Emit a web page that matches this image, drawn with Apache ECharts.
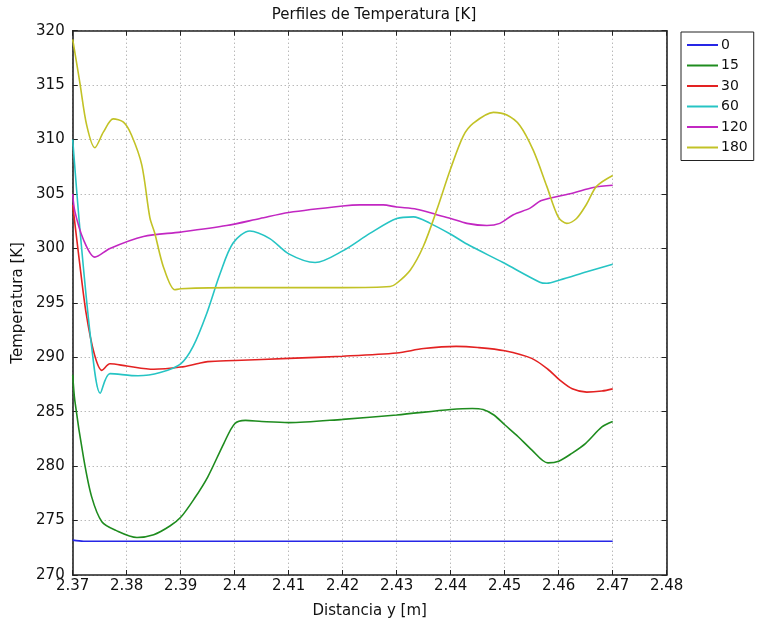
<!DOCTYPE html>
<html>
<head>
<meta charset="utf-8">
<script src="https://cdn.jsdelivr.net/npm/echarts@6/dist/echarts.min.js"></script>
<style>
html,body{margin:0;padding:0;background:#fff;}
#chart{width:760px;height:626px;}
</style>
</head>
<body>
<div id="chart"></div>
<script>
// Temperature profiles along y for each time (legend names)
const seriesNames = ['0', '15', '30', '60', '120', '180'];
const seriesColors = ['#2626e6', '#1f8c1f', '#e32222', '#26c4c4', '#c227c2', '#c2c226'];

const x0 = [2.37, 2.372, 2.38, 2.39, 2.40, 2.41, 2.42, 2.43, 2.44, 2.45, 2.46, 2.47];
const y0 = [273.2, 273.1, 273.1, 273.1, 273.1, 273.1, 273.1, 273.1, 273.1, 273.1, 273.1, 273.1];

const x15 = [2.37, 2.3704, 2.372, 2.3735, 2.3754, 2.378, 2.3819, 2.385, 2.388, 2.39, 2.3925, 2.395, 2.398, 2.40, 2.402, 2.405, 2.41, 2.42, 2.43, 2.44, 2.444, 2.446, 2.448, 2.45, 2.4525, 2.455, 2.458, 2.46, 2.4625, 2.465, 2.468, 2.47];
const y15 = [288.4, 286.0, 280.8, 277.2, 274.9, 274.1, 273.45, 273.7, 274.5, 275.3, 277.0, 279.0, 282.1, 283.9, 284.2, 284.1, 284.0, 284.3, 284.7, 285.2, 285.3, 285.2, 284.7, 283.8, 282.7, 281.5, 280.3, 280.45, 281.2, 282.1, 283.6, 284.1];

const x30 = [2.37, 2.3712, 2.3725, 2.374, 2.3754, 2.3769, 2.38, 2.385, 2.39, 2.393, 2.395, 2.40, 2.41, 2.42, 2.43, 2.435, 2.441, 2.445, 2.45, 2.455, 2.458, 2.4602, 2.4625, 2.4652, 2.468, 2.47];
const y30 = [304.0, 299.0, 294.0, 290.3, 288.8, 289.4, 289.2, 288.9, 289.1, 289.4, 289.6, 289.7, 289.9, 290.1, 290.4, 290.8, 291.0, 290.9, 290.6, 289.9, 288.9, 287.9, 287.1, 286.8, 286.9, 287.1];

const x60 = [2.37, 2.3714, 2.3735, 2.3751, 2.3769, 2.3821, 2.3862, 2.39, 2.3923, 2.3948, 2.3973, 2.3997, 2.4028, 2.4065, 2.41, 2.4149, 2.4201, 2.4251, 2.43, 2.4331, 2.4362, 2.44, 2.443, 2.4497, 2.4565, 2.4578, 2.4602, 2.4652, 2.47];
const y60 = [310.0, 301.4, 291.0, 286.7, 288.5, 288.3, 288.6, 289.4, 291.0, 294.0, 297.7, 300.5, 301.6, 300.9, 299.5, 298.7, 299.8, 301.4, 302.75, 302.9, 302.3, 301.3, 300.4, 298.7, 296.9, 296.8, 297.1, 297.85, 298.55];

const x120 = [2.37, 2.3704, 2.372, 2.3741, 2.3769, 2.3831, 2.39, 2.3985, 2.4047, 2.41, 2.42, 2.4232, 2.4275, 2.43, 2.4337, 2.4374, 2.44, 2.443, 2.4467, 2.4491, 2.4516, 2.4547, 2.4568, 2.4627, 2.4664, 2.47];
const y120 = [305.0, 303.4, 300.8, 299.2, 300.0, 301.1, 301.5, 302.1, 302.75, 303.3, 303.9, 304.0, 304.0, 303.8, 303.6, 303.1, 302.75, 302.3, 302.1, 302.3, 303.1, 303.7, 304.4, 305.1, 305.6, 305.8];

const x180 = [2.37, 2.3713, 2.3726, 2.3741, 2.3757, 2.3775, 2.3794, 2.3809, 2.3828, 2.3843, 2.3852, 2.3868, 2.3889, 2.39, 2.40, 2.41, 2.42, 2.4288, 2.43, 2.4325, 2.4349, 2.4374, 2.4399, 2.4423, 2.4442, 2.4479, 2.4504, 2.4528, 2.4553, 2.4578, 2.4599, 2.4615, 2.4633, 2.4652, 2.467, 2.47];
const y180 = [319.2, 315.3, 311.3, 309.25, 310.7, 311.9, 311.6, 310.4, 307.65, 302.8, 301.4, 298.3, 296.2, 296.3, 296.4, 296.4, 296.4, 296.5, 296.8, 298.0, 300.15, 303.5, 307.2, 310.3, 311.5, 312.5, 312.25, 311.3, 309.0, 305.7, 302.9, 302.3, 302.75, 304.1, 305.7, 306.7];

const xTicks = [2.37, 2.38, 2.39, 2.40, 2.41, 2.42, 2.43, 2.44, 2.45, 2.46, 2.47, 2.48];

const xs = [x0, x15, x30, x60, x120, x180];
const ys = [y0, y15, y30, y60, y120, y180];

const font = 'DejaVu Sans';
const axisColor = '#222';
const gridDots = { show: true, lineStyle: { color: '#9a9a9a', type: [1, 3], width: 1 } };

const series = seriesNames.map((name, i) => ({
  name: name,
  type: 'line',
  data: xs[i].map((x, k) => [x, ys[i][k]]),
  showSymbol: false,
  smooth: 0.3,
  lineStyle: { color: seriesColors[i], width: 1.6 },
  itemStyle: { color: seriesColors[i] },
  emphasis: { disabled: true },
  z: 3
}));

const chart = echarts.init(document.getElementById('chart'), null, { renderer: 'canvas' });
chart.setOption({
  animation: false,
  backgroundColor: '#fff',
  title: {
    text: 'Perfiles de Temperatura [K]',
    left: 369, top: 3, textAlign: 'center',
    textStyle: { fontFamily: font, fontSize: 15, fontWeight: 'normal', color: '#111' }
  },
  legend: {
    data: seriesNames,
    orient: 'vertical',
    left: 681, top: 32,
    width: 76,
    padding: [6, 6, 6, 6],
    itemGap: 6.5,
    itemWidth: 31, itemHeight: 2,
    icon: 'rect',
    borderColor: '#222', borderWidth: 1,
    textStyle: { fontFamily: font, fontSize: 14, color: '#111', padding: [0, 0, 0, -2] },
    selectedMode: false
  },
  grid: { left: 72.7, right: 93.3, top: 30.7, bottom: 51, containLabel: false },
  xAxis: [{
    type: 'value', min: 2.37, max: 2.48, interval: 0.01,
    name: 'Distancia y [m]', nameLocation: 'middle', nameGap: 29,
    nameTextStyle: { fontFamily: font, fontSize: 15, color: '#111' },
    axisLine: { show: true, lineStyle: { color: axisColor, width: 1.6 } },
    axisTick: { show: true, inside: true, length: 5, lineStyle: { color: axisColor } },
    axisLabel: {
      fontFamily: font, fontSize: 15, color: '#111', margin: 4,
      formatter: v => { const t = xTicks.find(a => Math.abs(a - v) < 1e-6); return t === undefined ? '' : String(+t.toFixed(2)); }
    },
    splitLine: gridDots
  }, {
    type: 'value', position: 'top', min: 2.37, max: 2.48, interval: 0.01,
    axisLine: { show: true, onZero: false, lineStyle: { color: axisColor, width: 1.6 } },
    axisTick: { show: true, inside: true, length: 5, lineStyle: { color: axisColor } },
    axisLabel: { show: false }, splitLine: { show: false }
  }],
  yAxis: [{
    type: 'value', min: 270, max: 320, interval: 5,
    name: 'Temperatura [K]', nameLocation: 'middle', nameGap: 44, nameRotate: 90,
    nameTextStyle: { fontFamily: font, fontSize: 15, color: '#111' },
    axisLine: { show: true, lineStyle: { color: axisColor, width: 1.6 } },
    axisTick: { show: true, inside: true, length: 5, lineStyle: { color: axisColor } },
    axisLabel: { fontFamily: font, fontSize: 15, color: '#111', margin: 8 },
    splitLine: gridDots
  }, {
    type: 'value', position: 'right', min: 270, max: 320, interval: 5,
    axisLine: { show: true, onZero: false, lineStyle: { color: axisColor, width: 1.6 } },
    axisTick: { show: true, inside: true, length: 5, lineStyle: { color: axisColor } },
    axisLabel: { show: false }, splitLine: { show: false }
  }],
  series: series
});
</script>
</body>
</html>
